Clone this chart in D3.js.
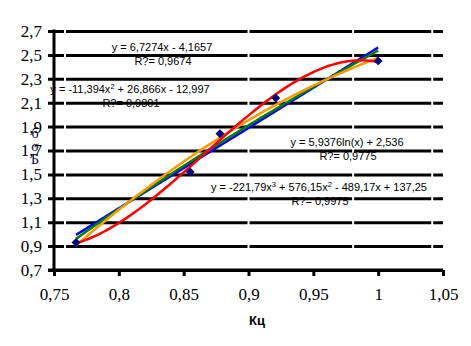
<!DOCTYPE html>
<html>
<head>
<meta charset="utf-8">
<script src="https://cdn.jsdelivr.net/npm/d3@7"></script>
<style>
  html, body { margin: 0; padding: 0; background: #fff; }
  svg { display: block; }
  .serif { font-family: "Liberation Serif", "Times New Roman", "DejaVu Serif", serif; }
  .sans { font-family: "Liberation Sans", Arial, "DejaVu Sans", sans-serif; }
</style>
</head>
<body>
<svg id="chart" width="471" height="346"></svg>
<script>
// ---- data ----
const kc = [0.767, 0.855, 0.878, 0.921, 1.0];
const sigma = [0.93, 1.52, 1.84, 2.14, 2.45];

const xTicks = [0.75, 0.8, 0.85, 0.9, 0.95, 1.0, 1.05];
const yTicks = [0.7, 0.9, 1.1, 1.3, 1.5, 1.7, 1.9, 2.1, 2.3, 2.5, 2.7];

// trendline coefficients as printed on the chart
const linCoef = [6.7274, -4.1657];                 // a*x + b
const logCoef = [5.9376, 2.536];                   // a*ln(x) + b
const quadCoef = [-11.394, 26.866, -12.997];       // a*x^2 + b*x + c
const cubCoef = [-221.79, 576.15, -489.17, 137.25];// a*x^3 + b*x^2 + c*x + d

const svg = d3.select("#chart");

const x = d3.scaleLinear().domain([0.75, 1.05]).range([54, 443]);
const y = d3.scaleLinear().domain([0.7, 2.7]).range([270, 31]);
const fmt = d => String(+d.toFixed(2)).replace(".", ",");

// gridlines + y tick labels
const yAxis = d3.axisLeft(y).tickValues(yTicks).tickSizeInner(-(443 - 48)).tickSizeOuter(0)
  .tickPadding(6).tickFormat(fmt);
const gy = svg.append("g").attr("transform", "translate(48,0)").call(yAxis)
  .attr("font-family", null).attr("font-size", null);
gy.select(".domain").remove();
gy.selectAll(".tick line").attr("stroke", "#000").attr("stroke-width", 3);
gy.selectAll(".tick text").attr("class", "serif").style("font-size", "17px").attr("fill", "#000");

// little white breaks seen in the gridlines of the original picture
const gapX = [0.7585, 0.9, 0.9807, 1.0417];
svg.append("g").selectAll("rect").data(gapX).join("rect")
  .attr("x", d => x(d) - 1).attr("width", 2)
  .attr("y", y(2.7) - 3).attr("height", y(0.9) - y(2.7) + 6)
  .attr("fill", "#fff");

// x axis
const xAxis = d3.axisBottom(x).tickValues(xTicks).tickSizeInner(6).tickSizeOuter(0)
  .tickPadding(12).tickFormat(fmt);
const gx = svg.append("g").attr("transform", "translate(0,270)").call(xAxis)
  .attr("font-family", null).attr("font-size", null);
gx.select(".domain").remove();
gx.selectAll(".tick line").attr("stroke", "#000").attr("stroke-width", 3);
gx.selectAll(".tick text").attr("class", "serif").style("font-size", "17px").attr("fill", "#000");

// axis lines
svg.append("line").attr("x1", 48).attr("x2", 443).attr("y1", y(0.7)).attr("y2", y(0.7))
  .attr("stroke", "#000").attr("stroke-width", 3);
svg.append("line").attr("x1", x(0.75)).attr("x2", x(0.75)).attr("y1", y(2.7) - 1.5).attr("y2", y(0.7) + 1.5)
  .attr("stroke", "#000").attr("stroke-width", 3);

// trendlines
const x0 = d3.min(kc), x1 = d3.max(kc);
const xs = d3.range(0, 101).map(i => x0 + (x1 - x0) * i / 100);
const fLin = t => linCoef[0] * t + linCoef[1];
const fLog = t => logCoef[0] * Math.log(t) + logCoef[1];
const fQuad = t => quadCoef[0] * t * t + quadCoef[1] * t + quadCoef[2];
const fCub = t => cubCoef[0] * t ** 3 + cubCoef[1] * t * t + cubCoef[2] * t + cubCoef[3];
const trends = [
  { f: fLin, color: "#0000ff" },
  { f: fLog, color: "#008000" },
  { f: fQuad, color: "#ff9900" },
  { f: fCub, color: "#ff0000" }
];
const line = d3.line().x(d => x(d[0])).y(d => y(d[1]));
svg.append("g").selectAll("path").data(trends).join("path")
  .attr("d", t => line(xs.map(v => [v, t.f(v)])))
  .attr("fill", "none").attr("stroke", t => t.color).attr("stroke-width", 2.5);

// markers (diamonds)
const sq = d3.symbol().type(d3.symbolSquare).size(40);
svg.append("g").selectAll("path").data(kc.map((v, i) => [v, sigma[i]])).join("path")
  .attr("d", sq)
  .attr("transform", d => `translate(${x(d[0])},${y(d[1])}) rotate(45)`)
  .attr("fill", "#000080");

// equation labels
function eq(cx, cy, parts) {
  const t = svg.append("text").attr("class", "sans").attr("x", cx).attr("y", cy)
    .attr("text-anchor", "middle").style("font-size", "11px").attr("fill", "#000");
  let shift = 0;
  parts.forEach(p => {
    if (Array.isArray(p)) {
      t.append("tspan").style("font-size", "7.5px").attr("dy", -4).text(p[0]);
      shift = 4;
    } else {
      t.append("tspan").attr("dy", shift).text(p);
      shift = 0;
    }
  });
}
eq(162, 51, ["y = 6,7274x  - 4,1657"]);
eq(163, 65, ["R?= 0,9674"]);
eq(130, 93, ["y = -11,394x", ["2"], " + 26,866x - 12,997"]);
eq(131, 107, ["R?= 0,9801"]);
eq(347, 146, ["y = 5,9376ln(x) + 2,536"]);
eq(348, 160, ["R?= 0,9775"]);
eq(319, 191, ["y = -221,79x", ["3"], " + 576,15x", ["2"], " - 489,17x  + 137,25"]);
eq(320, 205, ["R?= 0,9975"]);

// axis titles
svg.append("text").attr("class", "sans").attr("x", 257).attr("y", 325).attr("text-anchor", "middle")
  .attr("font-weight", "bold").style("font-size", "13px")
  .attr("fill", "#000").text("Кц");
const yTitle = ["б", "σ", "Б"];
const yt = svg.append("text").attr("class", "serif").attr("text-anchor", "middle")
  .style("font-size", "14px").attr("fill", "#000030");
yt.selectAll("tspan").data(yTitle).join("tspan")
  .attr("x", 35).attr("y", (d, i) => 138 + i * 13).text(d => d);
</script>
</body>
</html>
